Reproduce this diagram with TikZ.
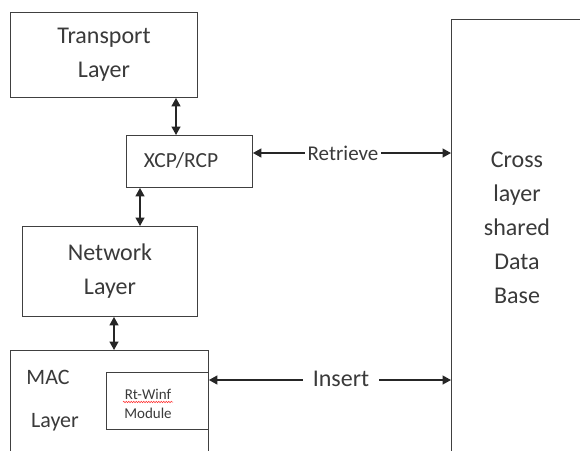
\documentclass[tikz,border=0pt]{standalone}
\usepackage{fontspec}
\setmainfont{Carlito}
\usetikzlibrary{arrows.meta,decorations.pathmorphing}
\definecolor{txt}{HTML}{3A3A3A}
\begin{document}
\begin{tikzpicture}[x=1pt,y=-1pt,
  box/.style={draw=black!75,line width=0.9pt,rectangle,inner sep=0pt,anchor=north west},
  lbl/.style={text=txt,inner sep=0pt,align=center},
  dbl/.style={{Triangle[length=8.5pt,width=9pt]}-{Triangle[length=8.5pt,width=9pt]},line width=1.4pt,black!85},
  big/.style={font=\fontsize{24}{34}\selectfont},
  mid/.style={font=\fontsize{21.5}{26}\selectfont},
  small/.style={font=\fontsize{15}{18}\selectfont}]
\useasboundingbox (0,0) rectangle (580,450);
\clip (0,0) rectangle (580,450);
\fill[white] (0,0) rectangle (580,450);
% boxes
\node[box,minimum width=187,minimum height=85] (trans) at (10,12) {};
\node[box,minimum width=126,minimum height=52] (xcp) at (126,135) {};
\node[box,minimum width=175,minimum height=90] (net) at (22,226) {};
\node[box,minimum width=198,minimum height=140] (mac) at (10,350) {};
\node[box,minimum width=102,minimum height=57] (rt) at (106,372) {};
\node[box,minimum width=160,minimum height=470] (db) at (451,19) {};
% texts
\node[lbl,big] (ttrans) at (104,55) {Transport\\Layer};
\node[lbl,mid] (txcp) at (181,160) {XCP/RCP};
\node[lbl,big] (tnet) at (110,271) {Network\\Layer};
\node[lbl,font=\fontsize{22}{26}\selectfont] (tmac) at (48,377) {MAC};
\node[lbl,font=\fontsize{22}{26}\selectfont] (tlay) at (55,422) {Layer};
\node[lbl,small] (trt1) at (148,394) {Rt-Winf};
\node[lbl,small] (trt2) at (148,413) {Module};
\draw[red!80,line width=0.5pt,decorate,decoration={snake,amplitude=0.8pt,segment length=2.5pt}] (123,402) -- (173,402);
\node[lbl,big] (tdb) at (517,228) {Cross\\layer\\shared\\Data\\Base};
% connector coordinates
\coordinate (c1) at (176,0);
\coordinate (c2) at (140,0);
\coordinate (c3) at (114,0);
\coordinate (ret) at (0,153);
\coordinate (ins) at (0,380);
% vertical arrows
\draw[dbl] (trans.south -| c1) -- (xcp.north -| c1);
\draw[dbl] (xcp.south -| c2) -- (net.north -| c2);
\draw[dbl] (net.south -| c3) -- (mac.north -| c3);
% horizontal arrows
\draw[dbl] (xcp.east |- ret) -- (db.west |- ret);
\node[lbl,font=\fontsize{21}{26}\selectfont,fill=white,inner xsep=3pt,inner ysep=2pt] (lret) at (343,153) {Retrieve};
\draw[dbl] (rt.east |- ins) -- (db.west |- ins);
\node[lbl,big,fill=white,inner xsep=10pt,inner ysep=2pt] (lins) at (341,379) {Insert};
\end{tikzpicture}
\end{document}
